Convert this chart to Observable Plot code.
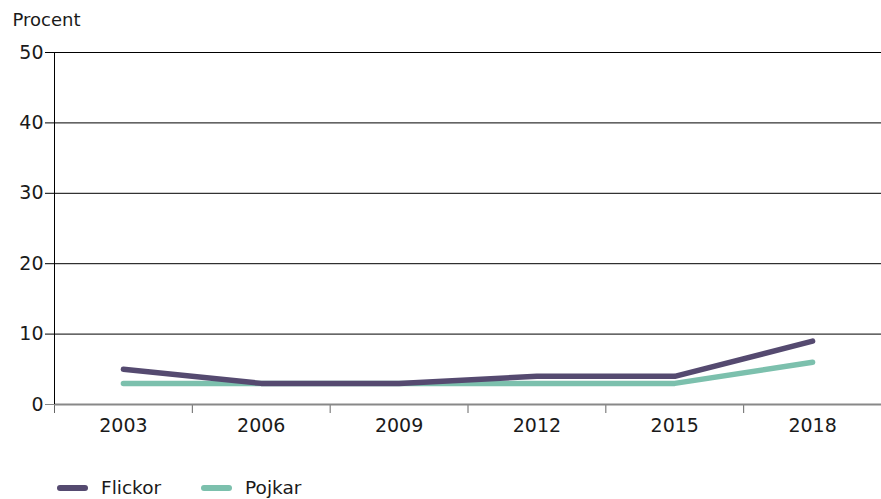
<!DOCTYPE html>
<html><head><meta charset="utf-8">
<script src="https://cdn.jsdelivr.net/npm/d3@7"></script>
<script src="https://cdn.jsdelivr.net/npm/@observablehq/plot@0.6"></script>
<style>
body{margin:0;background:#fff;font-family:"DejaVu Sans",sans-serif;color:#1a1a1a;}
#chart{position:absolute;left:0;top:0;}
#legend{position:absolute;left:57px;top:477px;display:flex;align-items:center;font-size:18.5px;}
.item{display:flex;align-items:center;margin-right:40px;}
.sw{width:31px;height:6px;border-radius:3px;margin-right:13px;}
</style></head><body>
<div id="chart"></div>
<div id="legend"></div>
<script>
const years = ["2003","2006","2009","2012","2015","2018"];
const flickor = [5,3,3,4,4,9];
const pojkar = [3,3,3,3,3,6];
const yTicks = [0,10,20,30,40,50];
const seriesNames = ["Flickor","Pojkar"];
const seriesColors = ["#554a70","#7cc0ad"];

const data = [
  ...years.map((y,i)=>({i:i+0.5, v:pojkar[i], s:"Pojkar"})),
  ...years.map((y,i)=>({i:i+0.5, v:flickor[i], s:"Flickor"}))
];

const F = '"DejaVu Sans",sans-serif';
const chart = Plot.plot({
  width:881, height:440,
  marginLeft:54, marginRight:0, marginTop:52, marginBottom:36,
  style:{fontSize:"19px", fontFamily:F, color:"#1a1a1a", background:"#fff"},
  x:{domain:[0, years.length], axis:null},
  y:{domain:[0,50], axis:null},
  color:{domain:seriesNames, range:seriesColors},
  marks:[
    Plot.gridY(yTicks.filter(d=>d>0), {stroke:"#000", strokeOpacity:1, strokeWidth:1}),
    Plot.axisY({ticks:yTicks.filter(d=>d>0), tickSize:9, tickPadding:2, label:null, stroke:"#000", fontSize:19}),
    Plot.axisY({ticks:[0], tickSize:9, tickPadding:2, label:null, stroke:"#888", fontSize:19}),
    Plot.axisX({ticks:d3.range(years.length+1), tickSize:9, tickFormat:()=>"", label:null, stroke:"#666"}),
    Plot.axisX({ticks:years.map((_,i)=>i+0.5), tickSize:0, tickPadding:14, tickFormat:t=>years[Math.round(t-0.5)], label:null, fontSize:19}),
    Plot.ruleY([0], {stroke:"#888", strokeWidth:2}),
    Plot.ruleX([0], {y1:0, y2:50, stroke:"#000", strokeWidth:1}),
    Plot.text(["Procent"], {frameAnchor:"top-left", textAnchor:"start", lineAnchor:"bottom", dx:-42, dy:-27, fontSize:18}),
    Plot.line(data, {x:"i", y:"v", z:"s", stroke:"s", strokeWidth:5.5, strokeLinecap:"round", strokeLinejoin:"round"})
  ]
});
document.getElementById("chart").append(chart);

const legend = document.getElementById("legend");
seriesNames.forEach((n,k)=>{
  const it = document.createElement("div"); it.className="item";
  const sw = document.createElement("div"); sw.className="sw"; sw.style.background=seriesColors[k];
  const tx = document.createElement("span"); tx.textContent=n;
  it.append(sw, tx); legend.append(it);
});
</script>
</body></html>
